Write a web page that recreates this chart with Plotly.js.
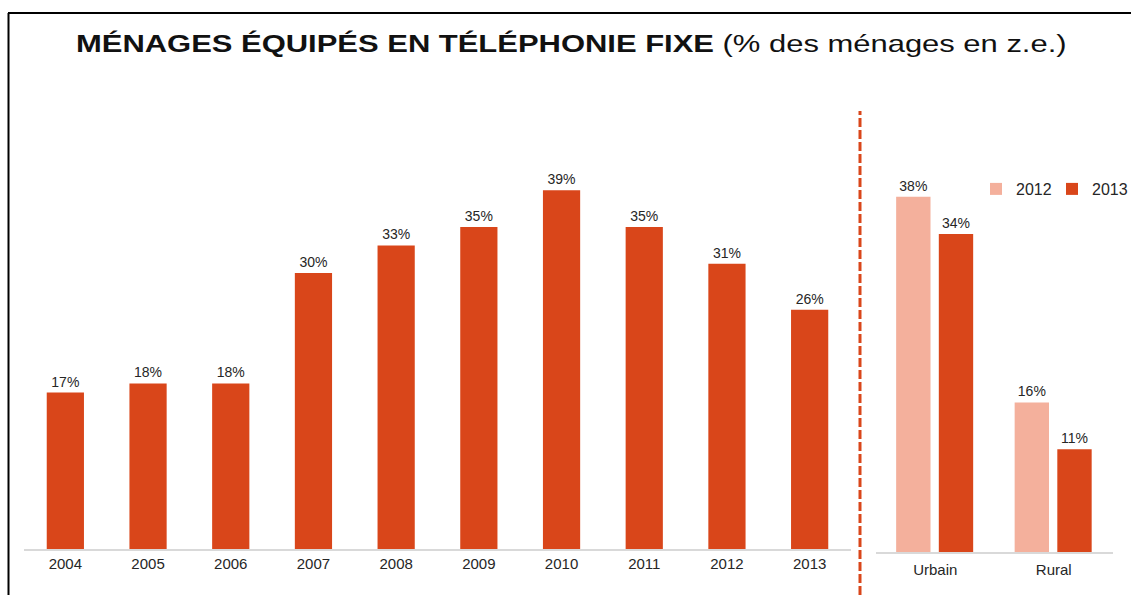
<!DOCTYPE html>
<html>
<head>
<meta charset="utf-8">
<script src="https://cdn.plot.ly/plotly-3.0.1.min.js"></script>
<style>
  html, body { margin: 0; padding: 0; background: #ffffff; overflow: hidden; width: 1131px; height: 595px; }
  #chart { width: 1131px; height: 595px; display: block; overflow: hidden; }
  #chart .main-svg { overflow: hidden !important; }
</style>
</head>
<body>
<div id="chart"></div>
<script>
// ---- Data ----
const years = ['2004', '2005', '2006', '2007', '2008', '2009', '2010', '2011', '2012', '2013'];
const yearValues = [17, 18, 18, 30, 33, 35, 39, 35, 31, 26];

const zones = ['Urbain', 'Rural'];
const zoneValues2012 = [38, 16];
const zoneValues2013 = [34, 11];
const seriesNames = ['2012', '2013'];

const titleBold = 'MÉNAGES ÉQUIPÉS EN TÉLÉPHONIE FIXE';
const titleRest = '(% des ménages en z.e.)';

// ---- Styles ----
const DARK = '#D9461A';
const LIGHT = '#F4B09C';
const TXT = '#262626';
const FONT = 'Arial, "Liberation Sans", Helvetica, sans-serif';
const W = 1131, H = 595;
const px = v => v / W;          // x pixel -> paper
const py = v => 1 - v / H;      // y pixel -> paper

const labelFont = { family: FONT, size: 14, color: TXT };

const traces = [
  {
    type: 'bar',
    x: years,
    y: yearValues,
    xaxis: 'x', yaxis: 'y',
    marker: { color: DARK },
    width: 0.45,
    offset: -0.225,
    text: yearValues.map(v => v + '%'),
    textposition: 'outside',
    textfont: labelFont,
    cliponaxis: false,
    showlegend: false,
    hoverinfo: 'x+y'
  },
  {
    type: 'bar',
    name: seriesNames[0],
    x: zones,
    y: zoneValues2012,
    xaxis: 'x2', yaxis: 'y2',
    marker: { color: LIGHT },
    width: 0.29,
    offset: -0.33,
    text: zoneValues2012.map(v => v + '%'),
    textposition: 'outside',
    textfont: labelFont,
    cliponaxis: false
  },
  {
    type: 'bar',
    name: seriesNames[1],
    x: zones,
    y: zoneValues2013,
    xaxis: 'x2', yaxis: 'y2',
    marker: { color: DARK },
    width: 0.29,
    offset: 0.03,
    text: zoneValues2013.map(v => v + '%'),
    textposition: 'outside',
    textfont: labelFont,
    cliponaxis: false
  }
];

const tickFont = { family: FONT, size: 15, color: TXT };

const layout = {
  width: W, height: H,
  autosize: false,
  margin: { l: 0, r: 0, t: 0, b: 0, pad: 0 },
  paper_bgcolor: '#ffffff',
  plot_bgcolor: '#ffffff',
  barmode: 'group',
  title: {
    text: '<b>' + titleBold + '</b> ' + titleRest,
    font: { family: FONT, size: 24, color: '#111111' },
    x: px(76), xanchor: 'left', xref: 'paper',
    y: 1 - 52 / H, yanchor: 'bottom', yref: 'container'
  },
  xaxis: {
    domain: [px(24), px(851)],
    type: 'category',
    showline: true, linecolor: '#D9D9D9', linewidth: 2,
    showgrid: false, zeroline: false, ticks: '',
    tickfont: tickFont,
    fixedrange: true
  },
  yaxis: {
    domain: [py(549), py(135)],
    range: [0, 45],
    visible: false,
    fixedrange: true
  },
  xaxis2: {
    domain: [px(876), px(1113)],
    type: 'category',
    anchor: 'y2',
    showline: true, linecolor: '#D9D9D9', linewidth: 2,
    showgrid: false, zeroline: false, ticks: '',
    tickfont: tickFont,
    ticklabelstandoff: 3,
    fixedrange: true
  },
  yaxis2: {
    domain: [py(552), py(131.25)],
    range: [0, 45],
    anchor: 'x2',
    visible: false,
    fixedrange: true
  },
  showlegend: true,
  legend: {
    orientation: 'h',
    x: px(1128), xanchor: 'right',
    y: py(189), yanchor: 'middle',
    font: { family: FONT, size: 16, color: TXT },
    bgcolor: 'rgba(0,0,0,0)',
    entrywidth: 31,
    entrywidthmode: 'pixels',
    traceorder: 'normal'
  },
  shapes: [
    // frame (top and left edges)
    { type: 'line', xref: 'paper', yref: 'paper', x0: px(8), x1: 1, y0: py(13), y1: py(13),
      line: { color: '#000000', width: 2 } },
    { type: 'line', xref: 'paper', yref: 'paper', x0: px(8.5), x1: px(8.5), y0: 0, y1: py(13),
      line: { color: '#000000', width: 2 } },
    // dashed separator
    { type: 'line', xref: 'paper', yref: 'paper', x0: px(860), x1: px(860), y0: 0, y1: py(111),
      line: { color: DARK, width: 3, dash: '9px,3px' } }
  ]
};

Plotly.newPlot('chart', traces, layout, { displayModeBar: false, staticPlot: true }).then(function () {
  // The reference title is rendered horizontally wide; stretch it to match.
  const t = document.querySelector('.gtitle');
  if (t) {
    const x0 = parseFloat(t.getAttribute('x')) || 0;
    t.setAttribute('transform', 'translate(' + x0 + ',0) scale(1.29,1) translate(' + (-x0) + ',0)');
  }
});
</script>
</body>
</html>
